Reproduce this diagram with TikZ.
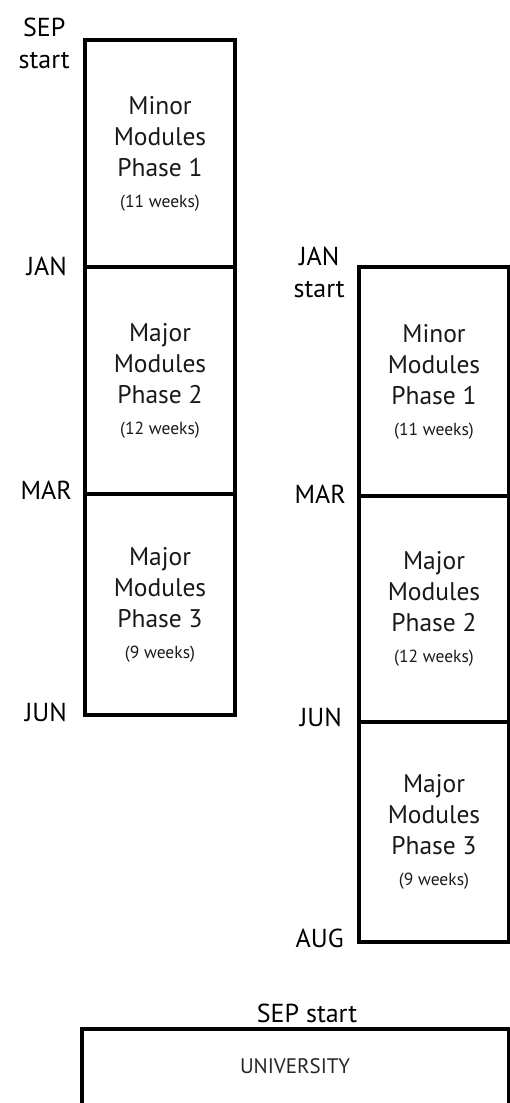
\documentclass[tikz,border=0pt]{standalone}
\usepackage{fontspec}
\setmainfont{PT Sans}
\usetikzlibrary{positioning}

\tikzset{
  phase/.style={draw, line width=4.5pt, outer sep=0pt, inner sep=0pt,
    minimum width=150pt, align=center, text=black!90,
    font=\fontsize{25.5}{31}\selectfont},
  month/.style={inner sep=0pt, align=center, anchor=base east,
    font=\fontsize{26}{32}\selectfont},
}
\newcommand{\wks}[1]{{\fontsize{17.5}{31}\selectfont(#1 weeks)}}

\begin{document}
\begin{tikzpicture}[x=1pt,y=-1pt,node distance=0pt]
  \useasboundingbox (0,0) rectangle (509,1103);
  % September intake
  \node[phase,minimum height=227pt,anchor=north west] (s_1) at (85,40) {Minor\\Modules\\Phase 1\\\wks{11}};
  \node[phase,minimum height=227pt] [below=of s_1] (s_2) {Major\\Modules\\Phase 2\\\wks{12}};
  \node[phase,minimum height=221pt] [below=of s_2] (s_3) {Major\\Modules\\Phase 3\\\wks{9}};
  \node[month] (s_start) at (70,68) {SEP\\start};
  \node[month] (s_jan) at (67,275) {JAN};
  \node[month] (s_mar) at (72,499) {MAR};
  \node[month] (s_jun) at (67,721) {JUN};
  % January intake
  \node[phase,minimum height=229pt,anchor=north west] (j_1) at (359,267) {Minor\\Modules\\Phase 1\\\wks{11}};
  \node[phase,minimum height=226pt] [below=of j_1] (j_2) {Major\\Modules\\Phase 2\\\wks{12}};
  \node[phase,minimum height=220pt] [below=of j_2] (j_3) {Major\\Modules\\Phase 3\\\wks{9}};
  \node[month] (j_start) at (345,297) {JAN\\start};
  \node[month] (j_mar) at (346,503) {MAR};
  \node[month] (j_jun) at (342,726) {JUN};
  \node[month] (j_aug) at (344,947) {AUG};
  % university
  \draw[line width=4.5pt] (82,1110) |- (509,1029) -- (509,1110);
  \node[month,anchor=base] (u_start) at (307,1022) {SEP start};
  \node[month,anchor=base,text=black!85,font=\fontsize{21}{25}\selectfont] (uni) at (295,1073) {UNIVERSITY};
\end{tikzpicture}
\end{document}
